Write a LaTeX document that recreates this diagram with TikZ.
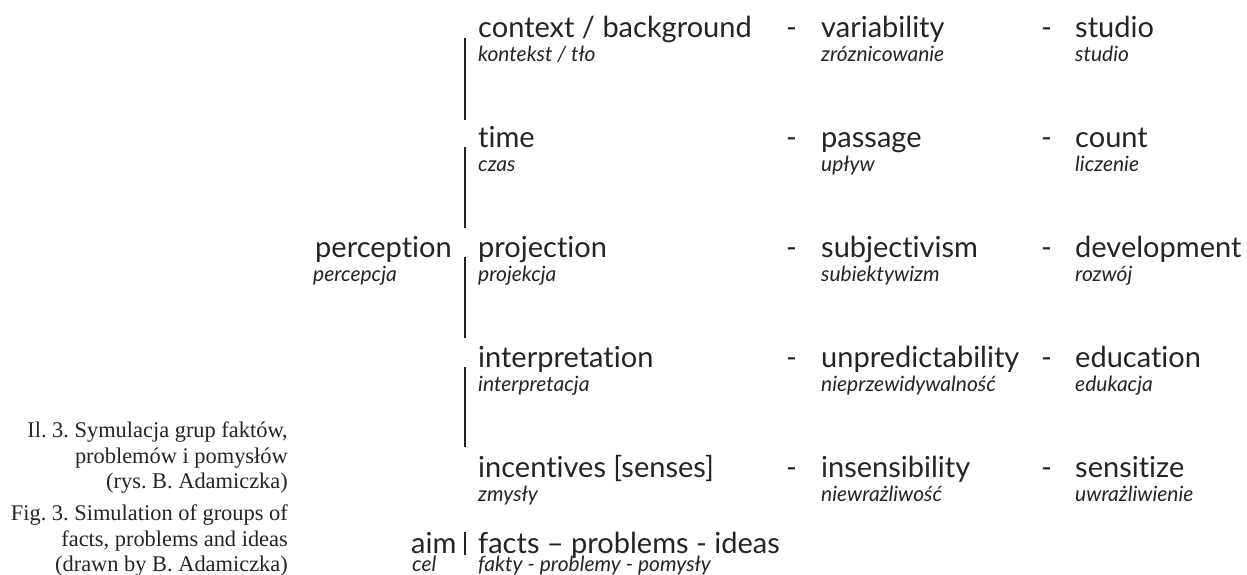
\documentclass[tikz,border=0pt]{standalone}
\usepackage{fontspec}
\setmainfont{Lato}[Ligatures={NoCommon}, RawFeature={-liga;-clig;-calt;-dlig}]
\newfontfamily\capfont{Liberation Serif}
\newcommand\tkern{t\kern0pt i}
\definecolor{ink}{RGB}{38,35,36}
\tikzset{
  lbl/.style={inner sep=0pt, anchor=base west, font=\fontsize{29}{29}\selectfont, text=ink},
  sub/.style={inner sep=0pt, anchor=base west, font=\fontsize{21}{21}\selectfont\itshape, text=ink},
  dsh/.style={inner sep=0pt, anchor=base west, font=\fontsize{29}{29}\selectfont, text=ink},
  bar/.style={line width=2.5pt, draw=ink},
  captxt/.style={inner sep=0pt, anchor=base east, font=\capfont\fontsize{22.4}{22.4}\selectfont\frenchspacing, text=ink}
}
\begin{document}
\begin{tikzpicture}[x=1pt,y=-1pt]
\useasboundingbox (0,0) rectangle (1247,574);
% left root
\node[lbl] (perc) at (315,257) {percep\tkern on};
\node[sub] (percpl) at (313,281) {percepcja};
\node[lbl] (aim) at (411,553) {aim};
\node[sub] (cel) at (412,571) {cel};
% column 1
\node[lbl] (r1a) at (478,37) {context / background};
\node[sub] (r1b) at (478,61) {kontekst / tło};
\node[lbl] (r2a) at (478,147) {\tkern me};
\node[sub] (r2b) at (478,171) {czas};
\node[lbl] (r3a) at (478,257) {projec\tkern on};
\node[sub] (r3b) at (478,281) {projekcja};
\node[lbl] (r4a) at (478,367) {interpreta\tkern on};
\node[sub] (r4b) at (478,391) {interpretacja};
\node[lbl] (r5a) at (478,477) {incen\tkern ves [senses]};
\node[sub] (r5b) at (478,501) {zmysły};
\node[lbl] (r6a) at (478,553) {facts – problems - ideas};
\node[sub] (r6b) at (478,571) {fakty - problemy - pomysły};
% dashes
\foreach \y/\n in {37/1,147/2,257/3,367/4,477/5}{
  \node[dsh] (d2\n) at (786,\y) {-};
  \node[dsh] (d3\n) at (1041,\y) {-};
}
% column 2
\node[lbl] (c21a) at (821,37) {variability};
\node[sub] (c21b) at (821,61) {zróznicowanie};
\node[lbl] (c22a) at (821,147) {passage};
\node[sub] (c22b) at (821,171) {upływ};
\node[lbl] (c23a) at (821,257) {subjec\tkern vism};
\node[sub] (c23b) at (821,281) {subiektywizm};
\node[lbl] (c24a) at (821,367) {unpredictability};
\node[sub] (c24b) at (821,391) {nieprzewidywalność};
\node[lbl] (c25a) at (821,477) {insensibility};
\node[sub] (c25b) at (821,501) {niewrażliwość};
% column 3
\node[lbl] (c31a) at (1075,37) {studio};
\node[sub] (c31b) at (1075,61) {studio};
\node[lbl] (c32a) at (1075,147) {count};
\node[sub] (c32b) at (1075,171) {liczenie};
\node[lbl] (c33a) at (1075,257) {development};
\node[sub] (c33b) at (1075,281) {rozwój};
\node[lbl] (c34a) at (1075,367) {educa\tkern on};
\node[sub] (c34b) at (1075,391) {edukacja};
\node[lbl] (c35a) at (1075,477) {sensi\tkern ze};
\node[sub] (c35b) at (1075,501) {uwrażliwienie};
% bars
\coordinate (b1t) at (465,38);  \coordinate (b1b) at (465,120);
\coordinate (b2t) at (465,147); \coordinate (b2b) at (465,228);
\coordinate (b3t) at (465,257); \coordinate (b3b) at (465,338);
\coordinate (b4t) at (465,367); \coordinate (b4b) at (465,447);
\coordinate (b5t) at (465,532); \coordinate (b5b) at (465,555);
\draw[bar] (b1t) -- (b1b);
\draw[bar] (b2t) -- (b2b);
\draw[bar] (b3t) -- (b3b);
\draw[bar] (b4t) -- (b4b);
\draw[bar] (b5t) -- (b5b);
% caption
\node[captxt] (cap1) at (288,437) {Il. 3. Symulacja grup faktów,};
\node[captxt] (cap2) at (288,463) {problemów i pomysłów};
\node[captxt] (cap3) at (288,488) {(rys. B. Adamiczka)};
\node[captxt] (cap4) at (288,520) {Fig. 3. Simulation of groups of};
\node[captxt] (cap5) at (288,546) {facts, problems and ideas};
\node[captxt] (cap6) at (288,571) {(drawn by B. Adamiczka)};
\end{tikzpicture}
\end{document}
